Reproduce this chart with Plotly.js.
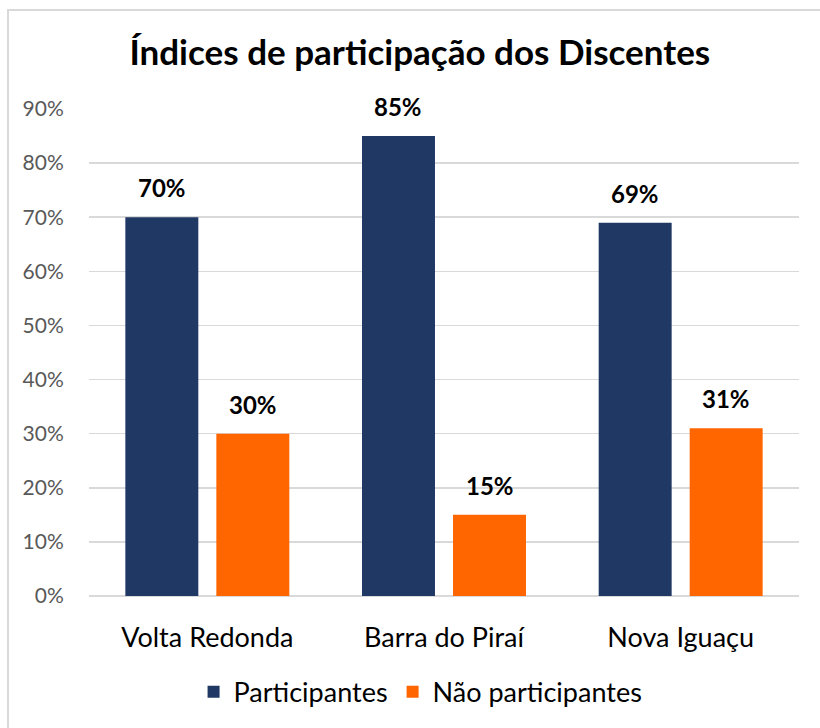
<!DOCTYPE html>
<html>
<head>
<meta charset="utf-8">
<script src="https://cdn.plot.ly/plotly-3.0.1.min.js"></script>
<style>
  html, body { margin: 0; padding: 0; background: #fff; }
  #wrap { position: relative; width: 820px; height: 728px; }
  #chart { width: 820px; height: 728px; }
  #frame { position: absolute; left: 7px; top: 9px; width: 830px; height: 740px;
           border-left: 2px solid #d9d9d9; border-top: 2px solid #d9d9d9; pointer-events: none; }
</style>
</head>
<body>
<div id="wrap"><div id="chart"></div><div id="frame"></div></div>
<script>
const categories = ["Volta Redonda", "Barra do Piraí", "Nova Iguaçu"];
const participantes = [0.70, 0.85, 0.69];
const naoParticipantes = [0.30, 0.15, 0.31];
const seriesNames = ["Participantes", "Não participantes"];
const tickVals = [0, 0.1, 0.2, 0.3, 0.4, 0.5, 0.6, 0.7, 0.8, 0.9];
const tickText = ["0%", "10%", "20%", "30%", "40%", "50%", "60%", "70%", "80%", "90%"];

const FONT = "Lato, 'Open Sans', sans-serif";
const colors = ["#203864", "#FF6600"];

const traces = [
  { type: "bar", name: seriesNames[0], x: categories, y: participantes,
    marker: { color: colors[0] }, hoverinfo: "skip" },
  { type: "bar", name: seriesNames[1], x: categories, y: naoParticipantes,
    marker: { color: colors[1] }, hoverinfo: "skip" }
];

const offsets = [-0.1925, 0.1925];
const annotations = [];
[participantes, naoParticipantes].forEach((vals, s) => {
  vals.forEach((v, i) => {
    annotations.push({
      x: i + offsets[s], y: v, xref: "x", yref: "y",
      text: Math.round(v * 100) + "%", showarrow: false,
      yanchor: "bottom", yshift: 13,
      font: { family: FONT, size: 24, color: "#000", weight: "bold" }
    });
  });
});

const layout = {
  width: 820, height: 728,
  margin: { l: 89, r: 21, t: 109, b: 131 },
  paper_bgcolor: "#fff", plot_bgcolor: "#fff",
  title: { text: "<b>Índices de participação dos Discentes</b>",
           font: { family: FONT, size: 35, color: "#000" },
           x: 0.512, xref: "container", xanchor: "center", y: 0.928, yanchor: "middle" },
  barmode: "group", bargap: 0.231, bargroupgap: 0.198,
  xaxis: { type: "category", tickfont: { family: FONT, size: 27, color: "#000" },
           showgrid: false, zeroline: false, showline: false,
           ticks: "outside", ticklen: 18, tickcolor: "rgba(0,0,0,0)",
           range: [-0.5, 2.5] },
  yaxis: { range: [0, 0.9], tickvals: tickVals, ticktext: tickText,
           tickfont: { family: FONT, size: 21, color: "#595959" },
           showgrid: true, gridcolor: "#d9d9d9", gridwidth: 1.5,
           zeroline: true, zerolinecolor: "#d9d9d9", zerolinewidth: 2,
           showline: false, ticks: "outside", ticklen: 20, tickcolor: "rgba(0,0,0,0)" },
  legend: { orientation: "h", x: 0.467, xanchor: "center", y: -0.195, yanchor: "middle",
            font: { family: FONT, size: 27, color: "#000" }, itemwidth: 30, traceorder: "normal" },
  annotations: annotations,
  showlegend: true
};

Plotly.newPlot("chart", traces, layout, { displayModeBar: false, staticPlot: true });
</script>
</body>
</html>
